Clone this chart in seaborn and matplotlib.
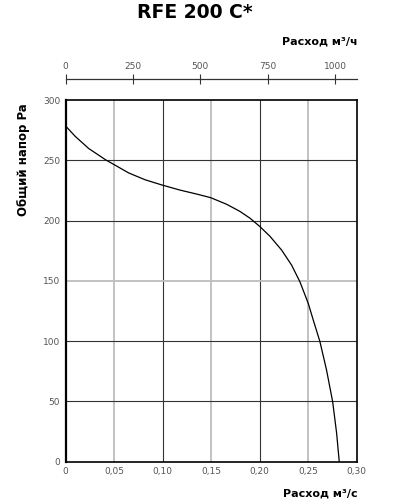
import matplotlib
matplotlib.use('Agg')
import matplotlib.pyplot as plt
import seaborn as sns

# curve: flow (m3/s) vs total pressure (Pa)
flow = [0, 0.0099, 0.0237, 0.0408, 0.0495, 0.065, 0.082, 0.0993, 0.1178,
        0.135, 0.1495, 0.166, 0.1797, 0.19, 0.2003, 0.2106, 0.2227, 0.233,
        0.2415, 0.2501, 0.2553, 0.2622, 0.269, 0.2753, 0.2794, 0.2821]
pressure = [278.4, 269.8, 259.8, 250.6, 246.6, 239.5, 233.8, 229.5, 225.3,
            222, 219, 213.5, 207.6, 202, 195, 187, 175.5, 163,
            149.3, 131.4, 117.5, 99.5, 76, 49.8, 23.6, 0]

x_ticks = [0, 0.05, 0.10, 0.15, 0.20, 0.25, 0.30]
x_labels = ['0', '0,05', '0,10', '0,15', '0,20', '0,25', '0,30']
y_ticks = [0, 50, 100, 150, 200, 250, 300]
top_ticks = [0, 250, 500, 750, 1000]

sns.set_style('white')
plt.rcParams['text.color'] = 'black'

fig = plt.figure(figsize=(3.98, 5), dpi=100)
ax = fig.add_axes([0.165, 0.0766, 0.731, 0.7234])

# grid: light and dark lines alternate like the original
for v in [0.05, 0.15, 0.25]:
    ax.axvline(v, color='#bdbdbd', lw=1.3, zorder=1)
for v in [0.10, 0.20]:
    ax.axvline(v, color='#333333', lw=0.8, zorder=1)
ax.axhline(150, color='#bdbdbd', lw=1.3, zorder=1)
for v in [50, 100, 200, 250]:
    ax.axhline(v, color='#333333', lw=0.8, zorder=1)

sns.lineplot(x=flow, y=pressure, ax=ax, color='black', lw=0.9, sort=False, zorder=3)

ax.set_xlim(0, 0.30)
ax.set_ylim(0, 300)
ax.set_xticks(x_ticks)
ax.set_xticklabels(x_labels)
ax.set_yticks(y_ticks)
ax.tick_params(length=0, labelsize=6.5, labelcolor='#555555', pad=4)
for s in ax.spines.values():
    s.set_color('black')
    s.set_linewidth(1.2)
ax.spines['left'].set_linewidth(1.6)

ax.set_xlabel('')
ax.set_ylabel('Общий напор Pa', fontsize=8.5, fontweight='heavy', color='black')
ax.yaxis.set_label_coords(-0.123, 0.834)

# secondary axis in m3/h
sec = ax.secondary_xaxis(1.058, functions=(lambda q: q * 3600, lambda h: h / 3600))
sec.set_xticks(top_ticks)
sec.tick_params(direction='inout', length=7, width=0.8, color='#333333',
                labelsize=6.5, labelcolor='#555555', pad=2)
sec.spines['top'].set_color('#333333')
sec.spines['top'].set_linewidth(0.9)

fig.text(0.898, 0.916, 'Расход м³/ч', ha='right', va='center',
         fontsize=8, fontweight='heavy', color='black')
fig.text(0.898, 0.014, 'Расход м³/с', ha='right', va='center',
         fontsize=8, fontweight='heavy', color='black')
fig.text(0.49, 0.974, 'RFE 200 C*', ha='center', va='center',
         fontsize=13.5, fontweight='heavy', color='black')

plt.savefig('out.png', dpi=100)
